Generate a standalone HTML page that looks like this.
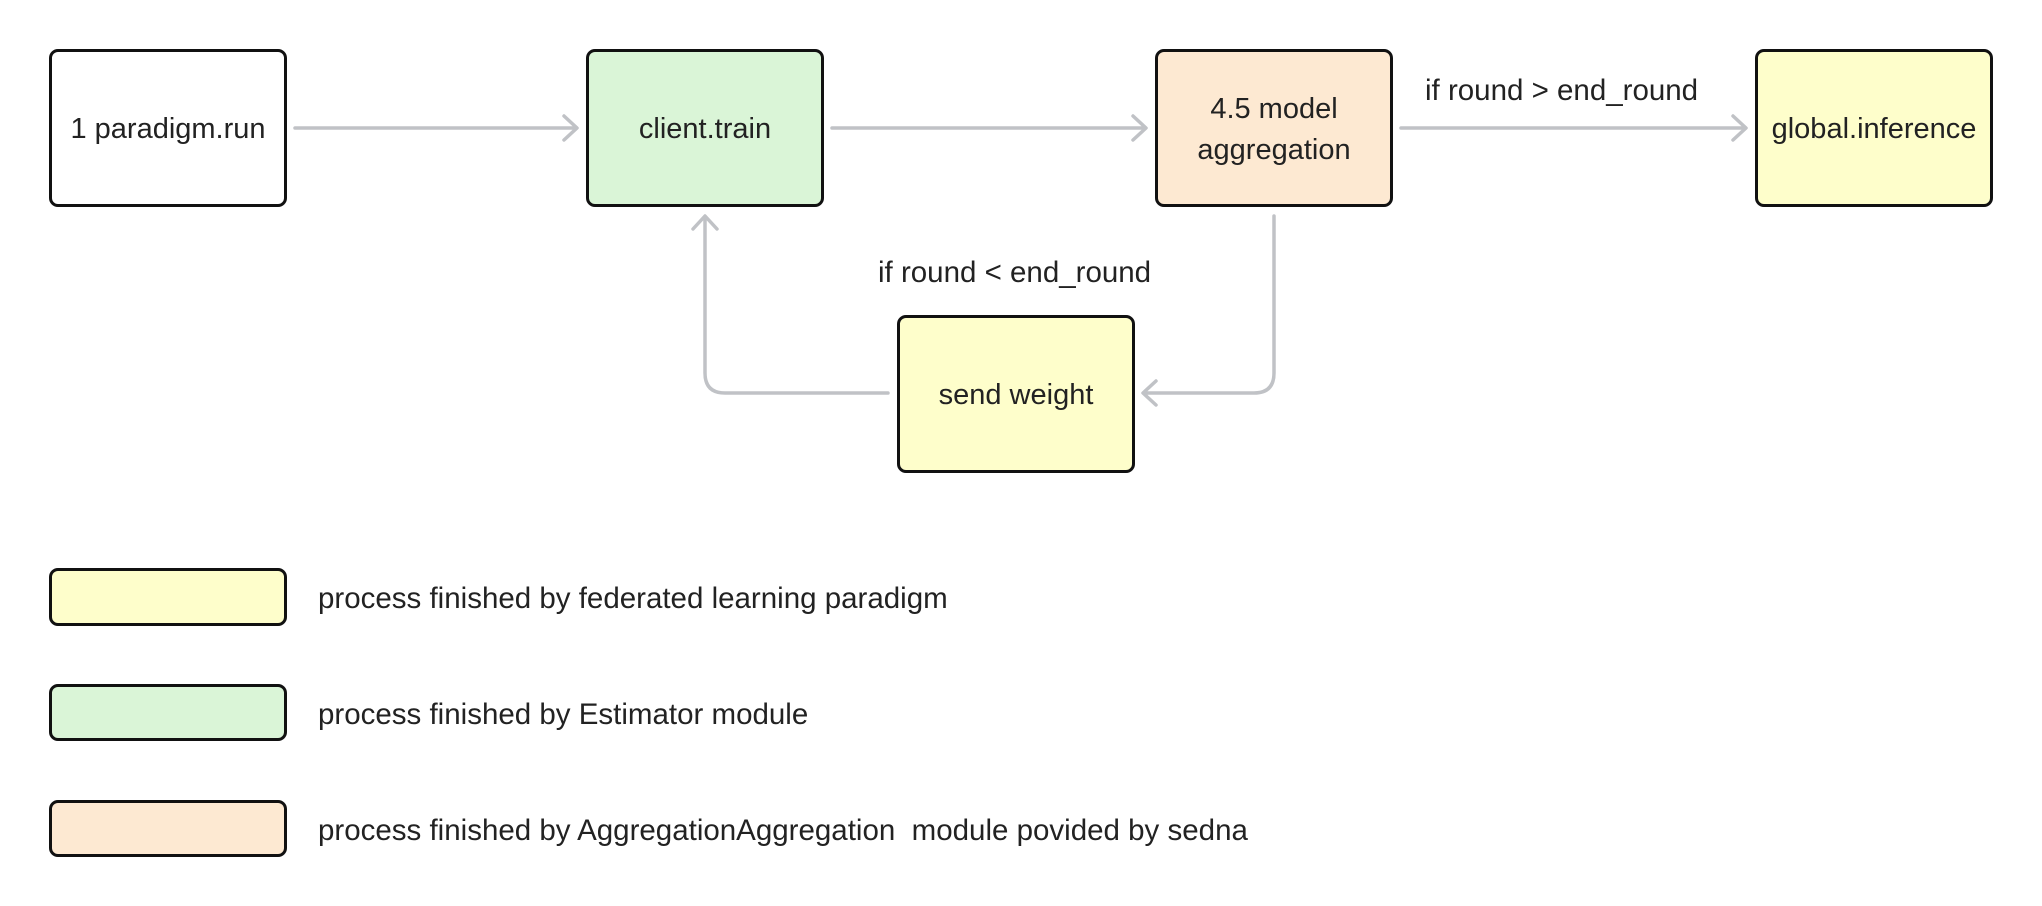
<!DOCTYPE html>
<html><head><meta charset="utf-8"><style>
body{margin:0;background:#fff;width:2042px;height:906px;overflow:hidden;position:relative;font-family:"Liberation Sans",sans-serif;color:#222}
.b{position:absolute;box-sizing:border-box;border:3.5px solid #111;border-radius:9px;display:flex;align-items:center;justify-content:center;text-align:center;font-size:29px;line-height:41px;padding-top:3px}
.t{position:absolute;font-size:29.5px;white-space:nowrap}
</style></head><body>
<svg width="2042" height="906" style="position:absolute;left:0;top:0" fill="none" stroke="#c0c2c6" stroke-width="3.5" stroke-linecap="round" stroke-linejoin="round">
<path d="M295 128H576M564 116L577 128L564 140"/>
<path d="M832 128H1145M1133 116L1146 128L1133 140"/>
<path d="M1401 128H1745M1733 116L1746 128L1733 140"/>
<path d="M1274 216V373Q1274 393 1254 393H1144M1156 381L1143 393L1156 405"/>
<path d="M888 393H725Q705 393 705 373V217M693 229L705 216L717 229"/>
</svg>
<div class="b" style="left:49px;top:49px;width:238px;height:158px;background:#fff">1 paradigm.run</div>
<div class="b" style="left:586px;top:49px;width:238px;height:158px;background:#daf5d7">client.train</div>
<div class="b" style="left:1155px;top:49px;width:238px;height:158px;background:#fde9d2">4.5 model<br>aggregation</div>
<div class="b" style="left:1755px;top:49px;width:238px;height:158px;background:#fefecb">global.inference</div>
<div class="b" style="left:897px;top:315px;width:238px;height:158px;background:#fefecb">send weight</div>
<div class="t" style="left:1425px;top:74px">if round &gt; end_round</div>
<div class="t" style="left:878px;top:256px">if round &lt; end_round</div>
<div class="b" style="left:49px;top:568px;width:238px;height:58px;background:#fefecb"></div>
<div class="b" style="left:49px;top:684px;width:238px;height:57px;background:#daf5d7"></div>
<div class="b" style="left:49px;top:800px;width:238px;height:57px;background:#fde9d2"></div>
<div class="t" style="left:318px;top:582px">process finished by federated learning paradigm</div>
<div class="t" style="left:318px;top:698px">process finished by Estimator module</div>
<div class="t" style="left:318px;top:814px">process finished by AggregationAggregation&nbsp; module povided by sedna</div>
</body></html>
